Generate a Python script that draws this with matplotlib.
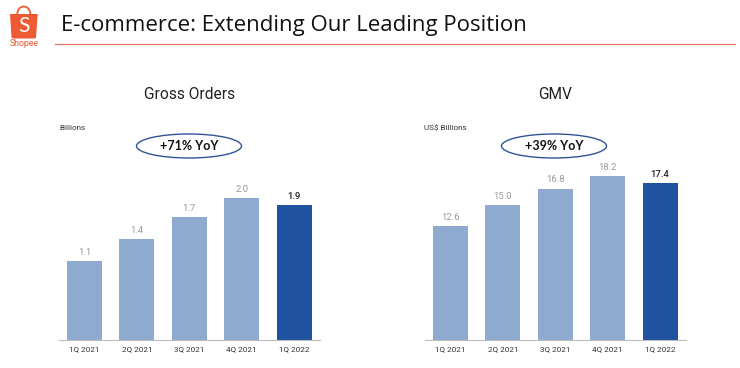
import matplotlib
matplotlib.use("Agg")
import matplotlib.pyplot as plt
from matplotlib.patches import Ellipse, Polygon, Arc

plt.rcParams['font.family'] = ['Roboto', 'DejaVu Sans']

quarters = ["1Q 2021", "2Q 2021", "3Q 2021", "4Q 2021", "1Q 2022"]
orders = [1.11, 1.42, 1.73, 2.0, 1.9]
gmv = [12.6, 15.0, 16.8, 18.2, 17.4]
order_labels = ["1.1", "1.4", "1.7", "2.0", "1.9"]
gmv_labels = ["12.6", "15.0", "16.8", "18.2", "17.4"]

W, H = 740, 368
LIGHT = "#8faacf"
DARK = "#1f529f"
ORANGE = "#ee5a32"

fig = plt.figure(figsize=(W / 100, H / 100), dpi=100, facecolor="white")

# overlay in pixel coordinates for the slide furniture
ov = fig.add_axes([0, 0, 1, 1])
ov.set_xlim(0, W); ov.set_ylim(H, 0); ov.axis("off")


def px(p):
    return p * 0.72


ov.text(61, 25.5, "E-commerce: Extending Our Leading Position", fontsize=px(22.3),
        color="#111111", va="center", ha="left", family=["Open Sans", "DejaVu Sans"])
ov.plot([55, 735], [44.3, 44.3], color="#e8766a", lw=0.9)

# logo
ov.add_patch(Polygon([[10, 14], [37.7, 14], [36, 37.5], [34.5, 38.5], [13, 38.5], [11.5, 37.5]],
                     closed=True, fc=ORANGE, ec="none"))
ov.add_patch(Arc((23.8, 14), 13, 15, theta1=180, theta2=360, color=ORANGE, lw=1.3))
ov.text(23.8, 26, "S", color="white", fontsize=px(21), ha="center", va="center",
        family=["Lato", "DejaVu Sans"])
ov.text(23.8, 43.5, "Shopee", color=ORANGE, fontsize=px(8.8), ha="center", va="center")

panels = [
    (59, 320, 84.5, 70.75, orders, order_labels, "Gross Orders", "Billions", 59, (189, 146), 189.5, "+71% YoY"),
    (425, 686, 450.5, 8.98, gmv, gmv_labels, "GMV", "US$ Billions", 424, (554, 146), 555, "+39% YoY"),
]
BASE = 339.5
TOP = 100.0
STEP = 52.4

for x0, x1, c0, scale, vals, labels, title, unit, ux, oc, tx, yoy in panels:
    ax = fig.add_axes([x0 / W, 1 - BASE / H, (x1 - x0) / W, (BASE - TOP) / H])
    ax.patch.set_alpha(0)
    ax.set_xlim((x0 - c0) / STEP, (x1 - c0) / STEP)
    ax.set_ylim(0, (BASE - TOP) / scale)
    xs = range(len(vals))
    colors = [LIGHT] * (len(vals) - 1) + [DARK]
    ax.bar(xs, vals, width=35 / STEP, color=colors)
    for i, (v, lab) in enumerate(zip(vals, labels)):
        last = i == len(vals) - 1
        ax.annotate(lab, (i, v), xytext=(0, 3), textcoords="offset points",
                    ha="center", va="bottom", fontsize=px(9.5),
                    fontweight=500 if last else 400,
                    color="#222222" if last else "#9a9a9a")
    for s in ["top", "left", "right"]:
        ax.spines[s].set_visible(False)
    ax.spines["bottom"].set_color("#bdbdbd")
    ax.spines["bottom"].set_linewidth(0.8)
    ax.set_yticks([])
    ax.set_xticks(list(xs))
    ax.set_xticklabels(quarters, fontsize=px(8.2), color="#333333")
    ax.tick_params(axis="x", length=0, pad=4.5)

    ov.text(tx, 94.5, title, fontsize=px(15.5), color="#222222", ha="center", va="center")
    ov.text(ux, 128.5, unit, fontsize=px(8.2), color="#333333", ha="left", va="center")
    ov.add_patch(Ellipse(oc, 105, 24, fc="white", ec="#2f5597", lw=1.0))
    ov.text(oc[0], oc[1], yoy, fontsize=px(12.5), fontweight="bold", color="#111111",
            ha="center", va="center", family=["Lato", "DejaVu Sans"])

fig.savefig("out.png", dpi=100, facecolor="white")
